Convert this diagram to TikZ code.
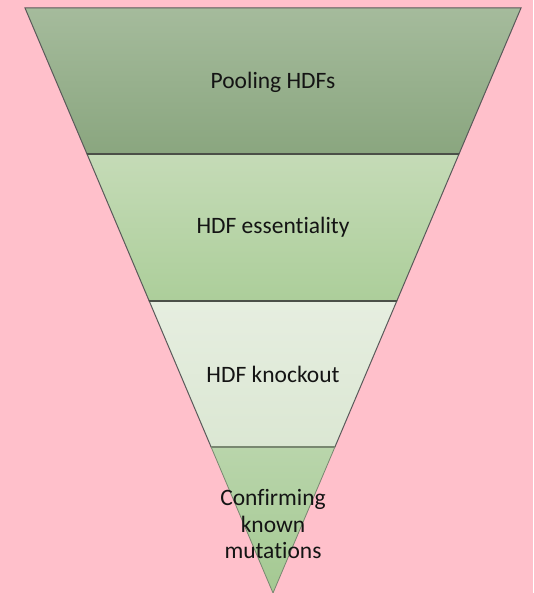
\documentclass[tikz,border=0pt]{standalone}
\usepackage{fontspec}
\setmainfont{Carlito}[Ligatures=NoCommon]
\definecolor{bgpink}{RGB}{255,192,203}
\definecolor{edge}{RGB}{90,90,90}
\definecolor{edgedark}{RGB}{75,80,72}
\definecolor{edgelight}{RGB}{120,135,112}
\definecolor{aTop}{RGB}{165,187,156}
\definecolor{aBot}{RGB}{138,166,127}
\definecolor{bTop}{RGB}{197,219,183}
\definecolor{bBot}{RGB}{172,206,154}
\definecolor{cTop}{RGB}{230,238,224}
\definecolor{cBot}{RGB}{219,231,211}
\definecolor{dTop}{RGB}{185,213,171}
\definecolor{dBot}{RGB}{164,201,146}
\definecolor{txt}{RGB}{20,20,20}
\begin{document}
\begin{tikzpicture}[x=1pt,y=1pt,
  layer/.style={draw=edge, line width=1pt, line join=miter},
  lbl/.style={text=txt, font=\fontsize{23.5}{26.5}\selectfont, align=center, inner sep=0pt}]
\fill[bgpink] (0,0) rectangle (533,593);
\useasboundingbox (0,0) rectangle (533,593);
% layers
\path[layer, top color=aTop, bottom color=aBot]
  (25,585) -- (521,585) -- (459,439) -- (87,439) -- cycle;
\path[layer, top color=bTop, bottom color=bBot]
  (87,439) -- (459,439) -- (396.8,292) -- (149.2,292) -- cycle;
\path[layer, top color=cTop, bottom color=cBot]
  (149.2,292) -- (396.8,292) -- (334.9,146) -- (211.1,146) -- cycle;
\path[layer, draw=edgelight, line width=0.8pt, top color=dTop, bottom color=dBot]
  (211.1,146) -- (334.9,146) -- (273,0) -- cycle;
% boundaries darker
\draw[edgedark, line width=1.6pt] (87,439) -- (459,439);
\draw[edgedark, line width=1.6pt] (149.2,292) -- (396.8,292);
\draw[edgelight, line width=1.2pt] (211.1,146) -- (334.9,146);
% labels
\node[lbl] (t1) at (273,510.5) {Pooling HDFs};
\node[lbl] (t2) at (273,365.5) {HDF essentiality};
\node[lbl] (t3) at (273,219) {HDF knockout};
\node[lbl] (t4) at (273,68.5) {Confirming\\known\\mutations};
\end{tikzpicture}
\end{document}
